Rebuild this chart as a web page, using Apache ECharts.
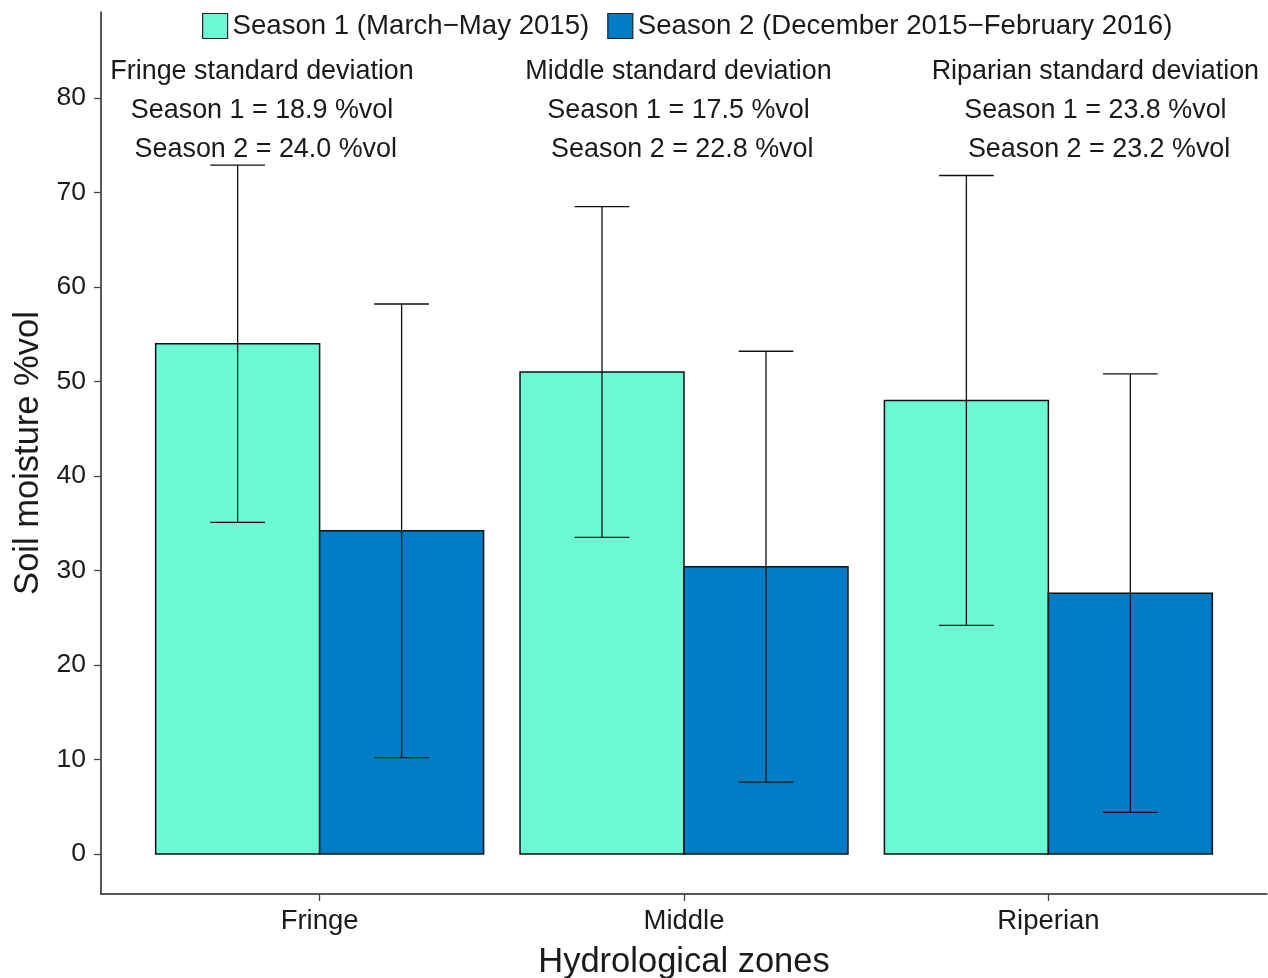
<!DOCTYPE html>
<html>
<head>
<meta charset="utf-8">
<title>Soil moisture by hydrological zone</title>
<script src="https://cdn.jsdelivr.net/npm/echarts@6/dist/echarts.min.js"></script>
<style>
  html, body { margin: 0; padding: 0; background: #ffffff; }
  #chart { width: 1268px; height: 978px; }
</style>
</head>
<body>
<div id="chart"></div>
<script>
// ---- data ----
const zones = ['Fringe', 'Middle', 'Riperian'];
const seasonNames = ['Season 1 (March\u2212May 2015)', 'Season 2 (December 2015\u2212February 2016)'];
const season1Mean = [54.0, 51.0, 48.0];
const season2Mean = [34.2, 30.4, 27.6];
const season1Sd = [18.9, 17.5, 23.8];
const season2Sd = [24.0, 22.8, 23.2];
const sdTitles = ['Fringe standard deviation', 'Middle standard deviation', 'Riparian standard deviation'];
const yTicks = [0, 10, 20, 30, 40, 50, 60, 70, 80];

// ---- layout / style ----
const FONT = "'Liberation Sans', Arial, Helvetica, sans-serif";
const TEXT = '#1a1a1a';
const COLORS = ['#6cf9d3', '#027cc4'];
const DODGE = 0.45;        // width of each bar in category units
const CAP = 0.15;          // error bar cap width in category units
const NOTE_X = [0.842, 1.985, 3.129];      // annotation block centres (category units)
const NOTE_Y = [82.8, 78.65, 74.5];        // annotation line centres (y units)

const catPos = zones.map((z, i) => i + 1);

function seasonData(means, sds) {
  return catPos.map((x, i) => [x, means[i], sds[i]]);
}

function barRenderer(side, color) {
  return function (params, api) {
    const x = api.value(0), m = api.value(1), sd = api.value(2);
    const x0 = side === 0 ? x - DODGE : x;
    const pTop = api.coord([x0, m]);
    const pBase = api.coord([x0 + DODGE, 0]);
    const cx = x0 + DODGE / 2;
    const eTop = api.coord([cx, m + sd]);
    const eBot = api.coord([cx, m - sd]);
    const half = (api.coord([cx + CAP / 2, 0])[0] - api.coord([cx - CAP / 2, 0])[0]) / 2;
    const lineStyle = { stroke: '#111', lineWidth: 1.3 };
    return {
      type: 'group',
      children: [
        { type: 'rect',
          shape: { x: pTop[0], y: pTop[1], width: pBase[0] - pTop[0], height: pBase[1] - pTop[1] },
          style: { fill: color, stroke: '#111', lineWidth: 1.5 } },
        { type: 'line', shape: { x1: eTop[0], y1: eTop[1], x2: eBot[0], y2: eBot[1] }, style: lineStyle },
        { type: 'line', shape: { x1: eTop[0] - half, y1: eTop[1], x2: eTop[0] + half, y2: eTop[1] }, style: lineStyle },
        { type: 'line', shape: { x1: eBot[0] - half, y1: eBot[1], x2: eBot[0] + half, y2: eBot[1] }, style: lineStyle }
      ]
    };
  };
}

// three text lines per zone: title, season 1 sd, season 2 sd
const noteData = [];
zones.forEach((z, i) => {
  for (let k = 0; k < 3; k++) noteData.push([NOTE_X[i], NOTE_Y[k], i, k]);
});
function noteText(i, k) {
  if (k === 0) return sdTitles[i];
  if (k === 1) return 'Season 1 = ' + season1Sd[i].toFixed(1) + ' %vol';
  return ' Season 2 = ' + season2Sd[i].toFixed(1) + ' %vol';
}

const chart = echarts.init(document.getElementById('chart'), null, { renderer: 'canvas' });

chart.setOption({
  animation: false,
  backgroundColor: '#ffffff',
  textStyle: { fontFamily: FONT },
  grid: { left: 101, right: 1, top: 12, bottom: 84, containLabel: false, outerBoundsMode: 'none' },
  legend: {
    left: 197, top: 7,
    itemWidth: 25, itemHeight: 25, itemGap: 18,
    icon: 'rect',
    textStyle: { fontFamily: FONT, fontSize: 27.6, color: TEXT },
    data: seasonNames.map((n, i) => ({
      name: n,
      itemStyle: { color: COLORS[i], borderColor: '#222', borderWidth: 1.2 }
    }))
  },
  xAxis: {
    type: 'value',
    min: 0.4, max: 3.6,
    name: 'Hydrological zones',
    nameLocation: 'middle',
    nameGap: 51,
    nameTextStyle: { fontFamily: FONT, fontSize: 34.5, color: TEXT },
    axisLine: { show: true, onZero: false, lineStyle: { color: '#222', width: 1.5 } },
    axisTick: { show: true, length: 7, customValues: catPos, lineStyle: { color: '#444', width: 1.3 } },
    axisLabel: {
      customValues: catPos,
      margin: 13,
      fontFamily: FONT, fontSize: 27.5, color: TEXT,
      formatter: v => zones[Math.round(v) - 1] || ''
    },
    splitLine: { show: false }
  },
  yAxis: {
    type: 'value',
    min: -4.23, max: 89.1,
    name: 'Soil moisture %vol',
    nameLocation: 'middle',
    nameGap: 55,
    nameTextStyle: { fontFamily: FONT, fontSize: 34.5, color: TEXT },
    axisLine: { show: true, lineStyle: { color: '#222', width: 1.5 } },
    axisTick: { show: true, length: 7, customValues: yTicks, lineStyle: { color: '#444', width: 1.3 } },
    axisLabel: {
      customValues: yTicks,
      margin: 15,
      fontFamily: FONT, fontSize: 26.5, color: TEXT,
      formatter: v => String(Math.round(v))
    },
    splitLine: { show: false }
  },
  series: [
    {
      name: seasonNames[0], type: 'custom',
      itemStyle: { color: COLORS[0] },
      encode: { x: 0, y: 1 },
      data: seasonData(season1Mean, season1Sd),
      renderItem: barRenderer(0, COLORS[0])
    },
    {
      name: seasonNames[1], type: 'custom',
      itemStyle: { color: COLORS[1] },
      encode: { x: 0, y: 1 },
      data: seasonData(season2Mean, season2Sd),
      renderItem: barRenderer(1, COLORS[1])
    },
    {
      name: 'notes', type: 'custom', silent: true,
      encode: { x: 0, y: 1 },
      data: noteData,
      renderItem: function (params, api) {
        const p = api.coord([api.value(0), api.value(1)]);
        const i = api.value(2), k = api.value(3);
        return {
          type: 'text',
          style: {
            x: p[0], y: p[1],
            text: noteText(i, k),
            fill: TEXT,
            font: '26.9px ' + FONT,
            align: 'center', verticalAlign: 'middle'
          }
        };
      }
    }
  ]
});
</script>
</body>
</html>
